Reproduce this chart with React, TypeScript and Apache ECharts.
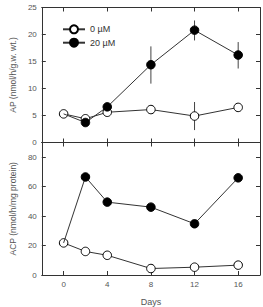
import React, { useEffect, useRef } from "react";
import * as echarts from "echarts";

// Sampling days
const days = [0, 2, 4, 8, 12, 16];
const dayTicks = [0, 4, 8, 12, 16];

// AP activity (nmol/h/g.w. wt.)
const ap0 = [5.3, 4.4, 5.6, 6.1, 4.9, 6.5];
const ap20 = [5.3, 3.7, 6.6, 14.4, 20.8, 16.2];
// AP error bars: [day, low, high]
const ap0Err = [[12, 2.3, 7.5]];
const ap20Err = [
  [8, 10.9, 17.8],
  [12, 18.9, 22.6],
  [16, 13.7, 18.6],
];

// ACP activity (nmol/h/mg protein)
const acp0 = [21.8, 16.0, 13.4, 4.4, 5.3, 6.7];
const acp20 = [21.8, 66.6, 49.5, 46.1, 34.8, 66.0];

const apTicks = [0, 5, 10, 15, 20, 25];
const acpTicks = [0, 20, 40, 60, 80];

const FONT = "Liberation Sans, Arial, Helvetica, sans-serif";
const INK = "#333";
const TXT = "#555";

const pairs = (ys: number[]) => days.map((d, i) => [d, ys[i]]);

// First point of the treated series coincides with the control; hide its marker
const treated = (ys: number[]) =>
  days.map((d, i) => (i === 0 ? { value: [d, ys[i]], symbol: "none" } : [d, ys[i]]));

const errorSeries = (data: number[][], xi: number, yi: number) => ({
  type: "custom",
  xAxisIndex: xi,
  yAxisIndex: yi,
  z: 1,
  silent: true,
  data,
  renderItem: (_p: any, api: any) => {
    const a = api.coord([api.value(0), api.value(1)]);
    const b = api.coord([api.value(0), api.value(2)]);
    return {
      type: "line",
      shape: { x1: a[0], y1: a[1], x2: b[0], y2: b[1] },
      style: { stroke: "#444", lineWidth: 1 },
    };
  },
});

const xAxisCfg = (grid: number, pos: "top" | "bottom", labels: boolean, name?: string) => ({
  type: "value",
  gridIndex: grid,
  position: pos,
  min: -2,
  max: 18,
  name: name ?? "",
  nameLocation: "middle",
  nameGap: 22,
  nameTextStyle: { fontFamily: FONT, fontSize: 9, color: TXT },
  splitLine: { show: false },
  axisLine: { show: true, onZero: false, lineStyle: { color: INK, width: 1 } },
  axisTick: {
    show: true,
    inside: true,
    length: 4,
    customValues: dayTicks,
    lineStyle: { color: INK, width: 1 },
  },
  axisLabel: {
    show: labels,
    customValues: dayTicks,
    fontFamily: FONT,
    fontSize: 8,
    color: TXT,
    margin: 5,
  },
});

const yAxisCfg = (
  grid: number,
  pos: "left" | "right",
  max: number,
  ticks: number[],
  name?: string
) => ({
  type: "value",
  gridIndex: grid,
  position: pos,
  min: 0,
  max,
  name: name ?? "",
  nameLocation: "middle",
  nameGap: 22,
  nameRotate: 90,
  nameTextStyle: { fontFamily: FONT, fontSize: 8.5, color: TXT },
  splitLine: { show: false },
  axisLine: { show: true, onZero: false, lineStyle: { color: INK, width: 1 } },
  axisTick: {
    show: true,
    inside: true,
    length: 4,
    customValues: ticks,
    lineStyle: { color: INK, width: 1 },
  },
  axisLabel: {
    show: pos === "left",
    customValues: ticks,
    fontFamily: FONT,
    fontSize: 8,
    color: TXT,
    margin: 5,
  },
});

const lineSeries = (name: string, data: any[], xi: number, yi: number, filled: boolean) => ({
  type: "line",
  name,
  xAxisIndex: xi,
  yAxisIndex: yi,
  data,
  z: filled ? 3 : 2,
  symbol: "circle",
  symbolSize: 8.5,
  showAllSymbol: true,
  lineStyle: { color: INK, width: 1 },
  itemStyle: { color: filled ? "#000" : "#fff", borderColor: "#000", borderWidth: 1 },
  emphasis: { disabled: true },
});

export default function App() {
  const ref = useRef<HTMLDivElement>(null);

  useEffect(() => {
    if (!ref.current) return;
    const chart = echarts.init(ref.current, undefined, { renderer: "svg" });
    chart.setOption({
      animation: false,
      backgroundColor: "#fff",
      grid: [
        { left: 35, right: 3, top: 7.5, height: 135 },
        { left: 35, right: 3, top: 142.5, height: 135 },
      ],
      legend: {
        orient: "vertical",
        left: 57,
        top: 19.3,
        itemWidth: 22,
        itemHeight: 10,
        itemGap: 3.4,
        textStyle: { fontFamily: FONT, fontSize: 9, color: INK },
        data: ["0 µM", "20 µM"],
      },
      xAxis: [
        xAxisCfg(0, "bottom", false),
        xAxisCfg(0, "top", false),
        xAxisCfg(1, "bottom", true, "Days"),
        xAxisCfg(1, "top", false),
      ],
      yAxis: [
        yAxisCfg(0, "left", 25, apTicks, "AP (nmol/h/g.w. wt.)"),
        yAxisCfg(0, "right", 25, apTicks),
        yAxisCfg(1, "left", 90, acpTicks, "ACP (nmol/h/mg protein)"),
        yAxisCfg(1, "right", 90, acpTicks),
      ],
      series: [
        errorSeries(ap0Err, 0, 0),
        errorSeries(ap20Err, 0, 0),
        lineSeries("0 µM", pairs(ap0), 0, 0, false),
        lineSeries("20 µM", treated(ap20), 0, 0, true),
        lineSeries("0 µM", pairs(acp0), 2, 2, false),
        lineSeries("20 µM", treated(acp20), 2, 2, true),
      ],
    });
    return () => chart.dispose();
  }, []);

  return (
    <div
      ref={ref}
      style={{ position: "fixed", left: 0, top: 0, width: 263, height: 307 }}
    />
  );
}
